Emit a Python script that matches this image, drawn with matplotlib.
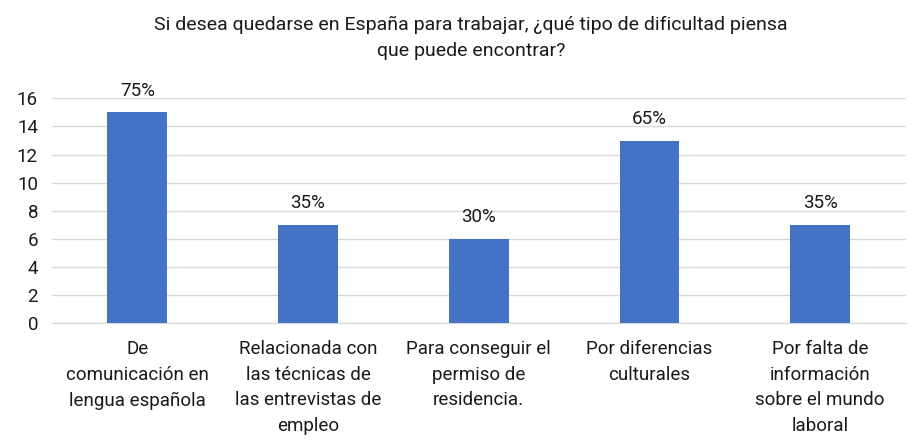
import matplotlib
matplotlib.use('Agg')
import matplotlib.pyplot as plt

# datos
categorias = [
    "De\ncomunicación en\nlengua española",
    "Relacionada con\nlas técnicas de\nlas entrevistas de\nempleo",
    "Para conseguir el\npermiso de\nresidencia.",
    "Por diferencias\nculturales",
    "Por falta de\ninformación\nsobre el mundo\nlaboral",
]
valores = [15, 7, 6, 13, 7]
porcentajes = ["75%", "35%", "30%", "65%", "35%"]
yticks = [0, 2, 4, 6, 8, 10, 12, 14, 16]

AZUL = "#4472C4"
TXT = '#1a1a1a'
plt.rcParams['font.family'] = ['Roboto', 'DejaVu Sans']

fig = plt.figure(figsize=(9.11, 4.43), dpi=100)
ax = fig.add_axes([0.057, 0.27, 0.937, 0.508])

x = range(len(categorias))
barras = ax.bar(x, valores, width=0.35, color=AZUL, zorder=3)
for b, p in zip(barras, porcentajes):
    ax.text(b.get_x() + b.get_width() / 2, b.get_height() + 0.9, p,
            ha='center', va='bottom', fontsize=13.5, color=TXT)

ax.set_xlim(-0.5, len(categorias) - 0.5)
ax.set_ylim(0, 16)
ax.set_yticks(yticks)
ax.tick_params(axis='y', length=0, labelsize=13.5, pad=10, labelcolor=TXT)
ax.tick_params(axis='x', length=0, labelsize=13.5, pad=12, labelcolor=TXT)
ax.set_xticks(list(x))
ax.set_xticklabels(categorias, linespacing=1.55)
ax.grid(axis='y', color='#d9d9d9', linewidth=1, zorder=0)
for s in ['top', 'right', 'left']:
    ax.spines[s].set_visible(False)
ax.spines['bottom'].set_color('#d9d9d9')

fig.text(0.517, 0.965, "Si desea quedarse en España para trabajar, ¿qué tipo de dificultad piensa\nque puede encontrar?",
         ha='center', va='top', fontsize=14, color=TXT, linespacing=1.6)

fig.savefig("out.png", dpi=100)
